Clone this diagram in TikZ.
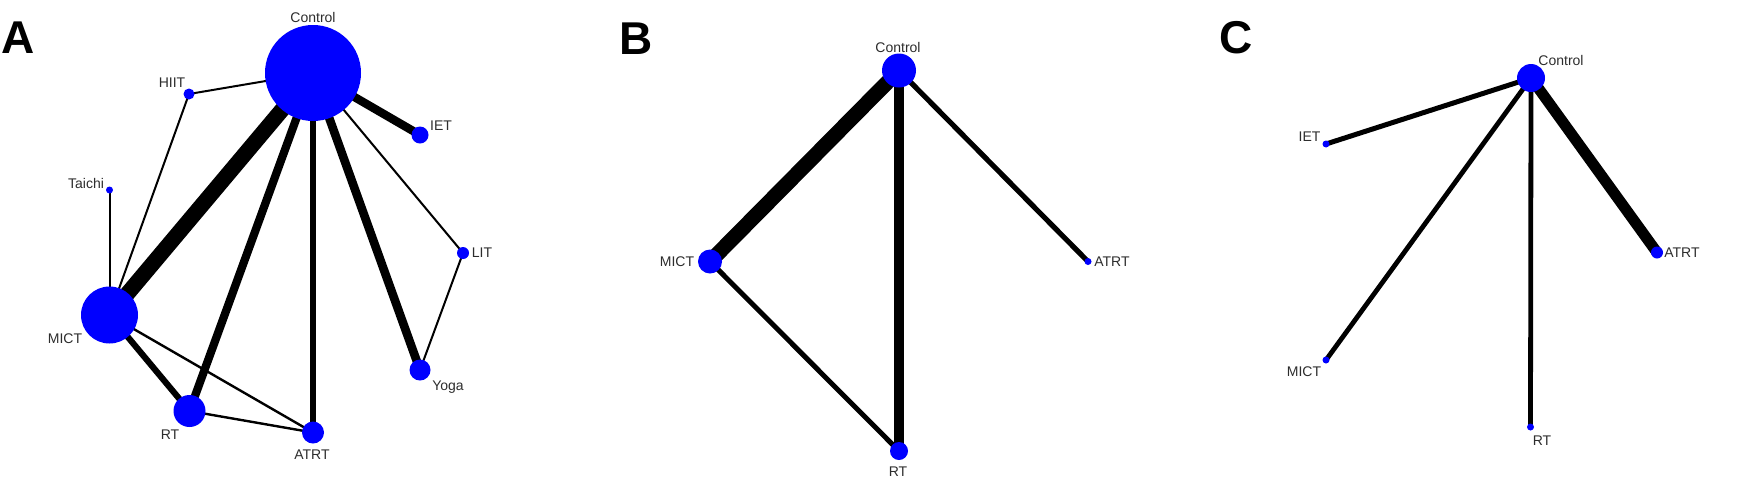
\documentclass[tikz,border=0pt]{standalone}
\usepackage{fontspec}
\setmainfont{Liberation Sans}
\usetikzlibrary{backgrounds}
\definecolor{nodeblue}{RGB}{0,0,255}
\definecolor{txt}{RGB}{45,45,45}
\pgfdeclarelayer{paper}
\pgfdeclarelayer{edges}
\pgfsetlayers{paper,edges,main}
\begin{document}
\begin{tikzpicture}[x=0.5pt,y=-0.5pt,
  nd/.style={circle,fill=nodeblue,draw=none,inner sep=0pt,outer sep=0pt,minimum size=#1},
  lbl/.style={font=\fontsize{7}{8}\selectfont,text=txt,inner sep=0pt},
  panel/.style={font=\fontsize{23}{26}\selectfont\bfseries,text=black,inner sep=0pt},
  ed/.style={line width=#1,draw=black}]
\begin{pgfonlayer}{paper}
\fill[white] (0,0) rectangle (1750,483);
\end{pgfonlayer}
\useasboundingbox (0,0) rectangle (1750,483);

% ---------------- Panel A ----------------
\node[panel] (pA) at (18,38) {A};
\node[nd=48pt] (Actrl) at (313,73) {};
\node[nd=5.5pt] (Ahiit) at (189,94) {};
\node[nd=8.5pt] (Aiet) at (420,135) {};
\node[nd=3.5pt] (Atai) at (109.5,190) {};
\node[nd=6pt] (Alit) at (463,253) {};
\node[nd=28.5pt] (Amict) at (109.5,315) {};
\node[nd=10.5pt] (Ayoga) at (420,370) {};
\node[nd=16pt] (Art) at (189.5,411) {};
\node[nd=11pt] (Aatrt) at (313,432.5) {};

\node[lbl] (ActrlL) at (313,17) {Control};
\node[lbl] (AhiitL) at (172,83) {HIIT};
\node[lbl] (AietL) at (441,126) {IET};
\node[lbl] (ataiL) at (86,183) {Taichi};
\node[lbl] (AlitL) at (482,253) {LIT};
\node[lbl] (AmictL) at (65,339) {MICT};
\node[lbl] (AyogaL) at (448,387) {Yoga};
\node[lbl] (ArtL) at (170,435) {RT};
\node[lbl] (AatrtL) at (312,455) {ATRT};

\begin{pgfonlayer}{edges}
\draw[ed=7.8pt] (Actrl.center) -- (Amict.center);
\draw[ed=4.1pt] (Actrl.center) -- (Art.center);
\draw[ed=3.1pt] (Actrl.center) -- (Aatrt.center);
\draw[ed=4.3pt] (Actrl.center) -- (Ayoga.center);
\draw[ed=4.2pt] (Actrl.center) -- (Aiet.center);
\draw[ed=1pt] (Actrl.center) -- (Alit.center);
\draw[ed=1pt] (Actrl.center) -- (Ahiit.center);
\draw[ed=1pt] (Ahiit.center) -- (Amict.center);
\draw[ed=1pt] (Atai.center) -- (Amict.center);
\draw[ed=1pt] (Alit.center) -- (Ayoga.center);
\draw[ed=3.1pt] (Amict.center) -- (Art.center);
\draw[ed=1.2pt] (Amict.center) -- (Aatrt.center);
\draw[ed=1.2pt] (Art.center) -- (Aatrt.center);
\end{pgfonlayer}

% ---------------- Panel B ----------------
\node[panel] (pB) at (636,38.5) {B};
\node[nd=17pt] (Bctrl) at (899,70.5) {};
\node[nd=12pt] (Bmict) at (710,261.5) {};
\node[nd=3.5pt] (Batrt) at (1088,261.5) {};
\node[nd=9pt] (Brt) at (899,451) {};

\node[lbl] (BctrlL) at (898,47) {Control};
\node[lbl] (BmictL) at (677,262) {MICT};
\node[lbl] (BatrtL) at (1112,262) {ATRT};
\node[lbl] (BrtL) at (898,472) {RT};

\begin{pgfonlayer}{edges}
\draw[ed=7.5pt] (Bctrl.center) -- (Bmict.center);
\draw[ed=5pt] (Bctrl.center) -- (Brt.center);
\draw[ed=2.6pt] (Bctrl.center) -- (Batrt.center);
\draw[ed=2.5pt] (Bmict.center) -- (Brt.center);
\end{pgfonlayer}

% ---------------- Panel C ----------------
\node[panel] (pC) at (1236,38) {C};
\node[nd=14pt] (Cctrl) at (1531,78) {};
\node[nd=3.5pt] (Ciet) at (1326,144) {};
\node[nd=3.5pt] (Cmict) at (1326,360) {};
\node[nd=3.5pt] (Crt) at (1530.5,427) {};
\node[nd=6pt] (Catrt) at (1657,252.5) {};

\node[lbl] (CctrlL) at (1561,60) {Control};
\node[lbl] (CietL) at (1309.5,137) {IET};
\node[lbl] (CmictL) at (1304,372) {MICT};
\node[lbl] (CrtL) at (1542,441) {RT};
\node[lbl] (CatrtL) at (1682,253) {ATRT};

\begin{pgfonlayer}{edges}
\draw[ed=2.5pt] (Cctrl.center) -- (Ciet.center);
\draw[ed=2.4pt] (Cctrl.center) -- (Cmict.center);
\draw[ed=2.4pt] (Cctrl.center) -- (Crt.center);
\draw[ed=5.5pt] (Cctrl.center) -- (Catrt.center);
\end{pgfonlayer}
\end{tikzpicture}
\end{document}
